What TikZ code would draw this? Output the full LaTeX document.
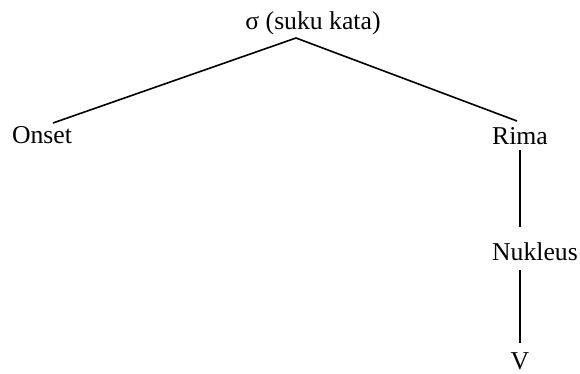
\documentclass[tikz,border=0pt]{standalone}
\usepackage{fontspec}
\setmainfont{Liberation Serif}
\begin{document}
\begin{tikzpicture}[x=1pt,y=-1pt,
  lbl/.style={inner sep=0pt,font=\fontsize{25.7}{30}\selectfont},
  edge/.style={line width=1.6pt}]
\useasboundingbox (0,0) rectangle (580,373);
\node[lbl] (sig) at (313,23) {σ (suku kata)};
\node[lbl] (onset) at (42,135) {Onset};
\node[lbl] (rima) at (520,136) {Rima};
\node[lbl] (nuk) at (535,252) {Nukleus};
\node[lbl] (v) at (520,361) {V};
\coordinate (apex) at (296,38);
\coordinate (lend) at (53,123);
\coordinate (rend) at (517,121);
\coordinate (r1) at (520,150);
\coordinate (r2) at (520,227);
\coordinate (n1) at (520,270);
\coordinate (n2) at (520,343);
\draw[edge] (lend) -- (apex) -- (rend);
\draw[edge] (r1) -- (r2);
\draw[edge] (n1) -- (n2);
\end{tikzpicture}
\end{document}
